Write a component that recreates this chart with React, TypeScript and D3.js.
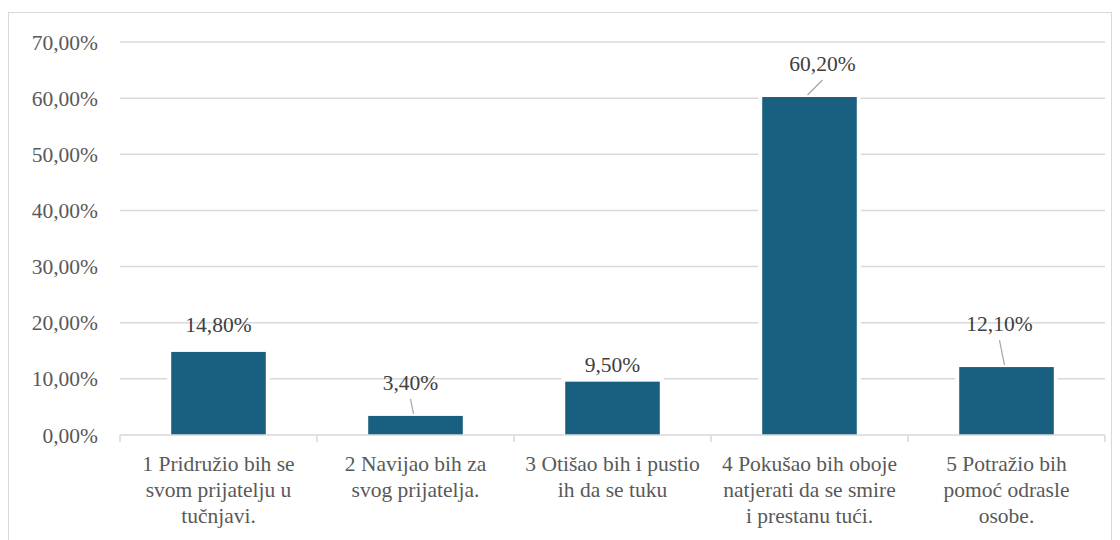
import React from "react"
import * as d3 from "d3"

const categories = [
  ["1 Pridružio bih se", "svom prijatelju u", "tučnjavi."],
  ["2 Navijao bih za", "svog prijatelja."],
  ["3 Otišao bih i pustio", "ih da se tuku"],
  ["4 Pokušao bih oboje", "natjerati da se smire", "i prestanu tući."],
  ["5 Potražio bih", "pomoć odrasle", "osobe."],
]
const values = [14.8, 3.4, 9.5, 60.2, 12.1]
const yTicks = [0, 10, 20, 30, 40, 50, 60, 70]

// label placement relative to bar centre / top (dx, dy of text, leader or not)
const labelPos = [
  { dx: 0, dy: -20, leader: false },
  { dx: -5, dy: -26, leader: true },
  { dx: 0, dy: -10, leader: false },
  { dx: 13, dy: -26, leader: true },
  { dx: -7, dy: -36, leader: true },
]

const fmt = (v: number) => v.toFixed(2).replace(".", ",") + "%"

const App = () => {
  const width = 1120
  const height = 540
  const left = 120
  const right = 1105
  const top = 42
  const bottom = 435
  const textStyle = { fontFamily: '"Liberation Serif", "DejaVu Serif", Tinos, "Times New Roman", serif' }
  const fs = 21.5

  const x = d3
    .scaleBand<number>()
    .domain(d3.range(values.length))
    .range([left, right])
    .paddingInner(0)
    .paddingOuter(0)
  const y = d3.scaleLinear().domain([0, 70]).range([bottom, top])
  const barW = x.bandwidth() * 0.48

  return (
    <svg
      width={width}
      height={height}
      style={{ position: "absolute", left: 0, top: 0, background: "#fff" }}
    >
      <rect x={8.5} y={12.5} width={1103} height={560} fill="#fff" stroke="#d9d9d9" strokeWidth={1} />
      {yTicks.map((t) => (
        <g key={t}>
          {t > 0 && (
            <line x1={left} x2={right} y1={y(t)} y2={y(t)} stroke="#d9d9d9" strokeWidth={1.5} />
          )}
          <text
            x={98}
            y={y(t)}
            dy="0.35em"
            textAnchor="end"
            style={textStyle}
            fontSize={fs}
            fill="#595959"
          >
            {fmt(t)}
          </text>
        </g>
      ))}
      {values.map((v, i) => {
        const cx = x(i)! + x.bandwidth() / 2
        return (
          <g key={i}>
            <rect x={cx - barW / 2 - 4} y={y(v) - 4} width={barW + 8} height={bottom - y(v) + 4} fill="#fff" />
            <rect x={cx - barW / 2} y={y(v)} width={barW} height={bottom - y(v)} fill="#185f80" />
          </g>
        )
      })}
      <line x1={left} x2={right} y1={bottom} y2={bottom} stroke="#d9d9d9" strokeWidth={1.5} />
      {d3.range(values.length + 1).map((i) => {
        const tx = i < values.length ? x(i)! : right
        return <line key={i} x1={tx} x2={tx} y1={bottom} y2={bottom + 7} stroke="#d9d9d9" strokeWidth={1.5} />
      })}
      {values.map((v, i) => {
        const cx = x(i)! + x.bandwidth() / 2
        const p = labelPos[i]
        const tx = cx + p.dx
        const ty = y(v) + p.dy
        return (
          <g key={i}>
            {p.leader && (
              <line x1={tx} y1={ty + 9} x2={cx - 2} y2={y(v) - 2} stroke="#a6a6a6" strokeWidth={1.2} />
            )}
            <text x={tx} y={ty} textAnchor="middle" style={textStyle} fontSize={fs} fill="#404040">
              {fmt(v)}
            </text>
          </g>
        )
      })}
      {categories.map((lines, i) => {
        const cx = x(i)! + x.bandwidth() / 2
        return (
          <text key={i} textAnchor="middle" style={textStyle} fontSize={fs} fill="#595959">
            {lines.map((l, j) => (
              <tspan key={j} x={cx} y={471 + j * 26}>
                {l}
              </tspan>
            ))}
          </text>
        )
      })}
    </svg>
  )
}

export default App
